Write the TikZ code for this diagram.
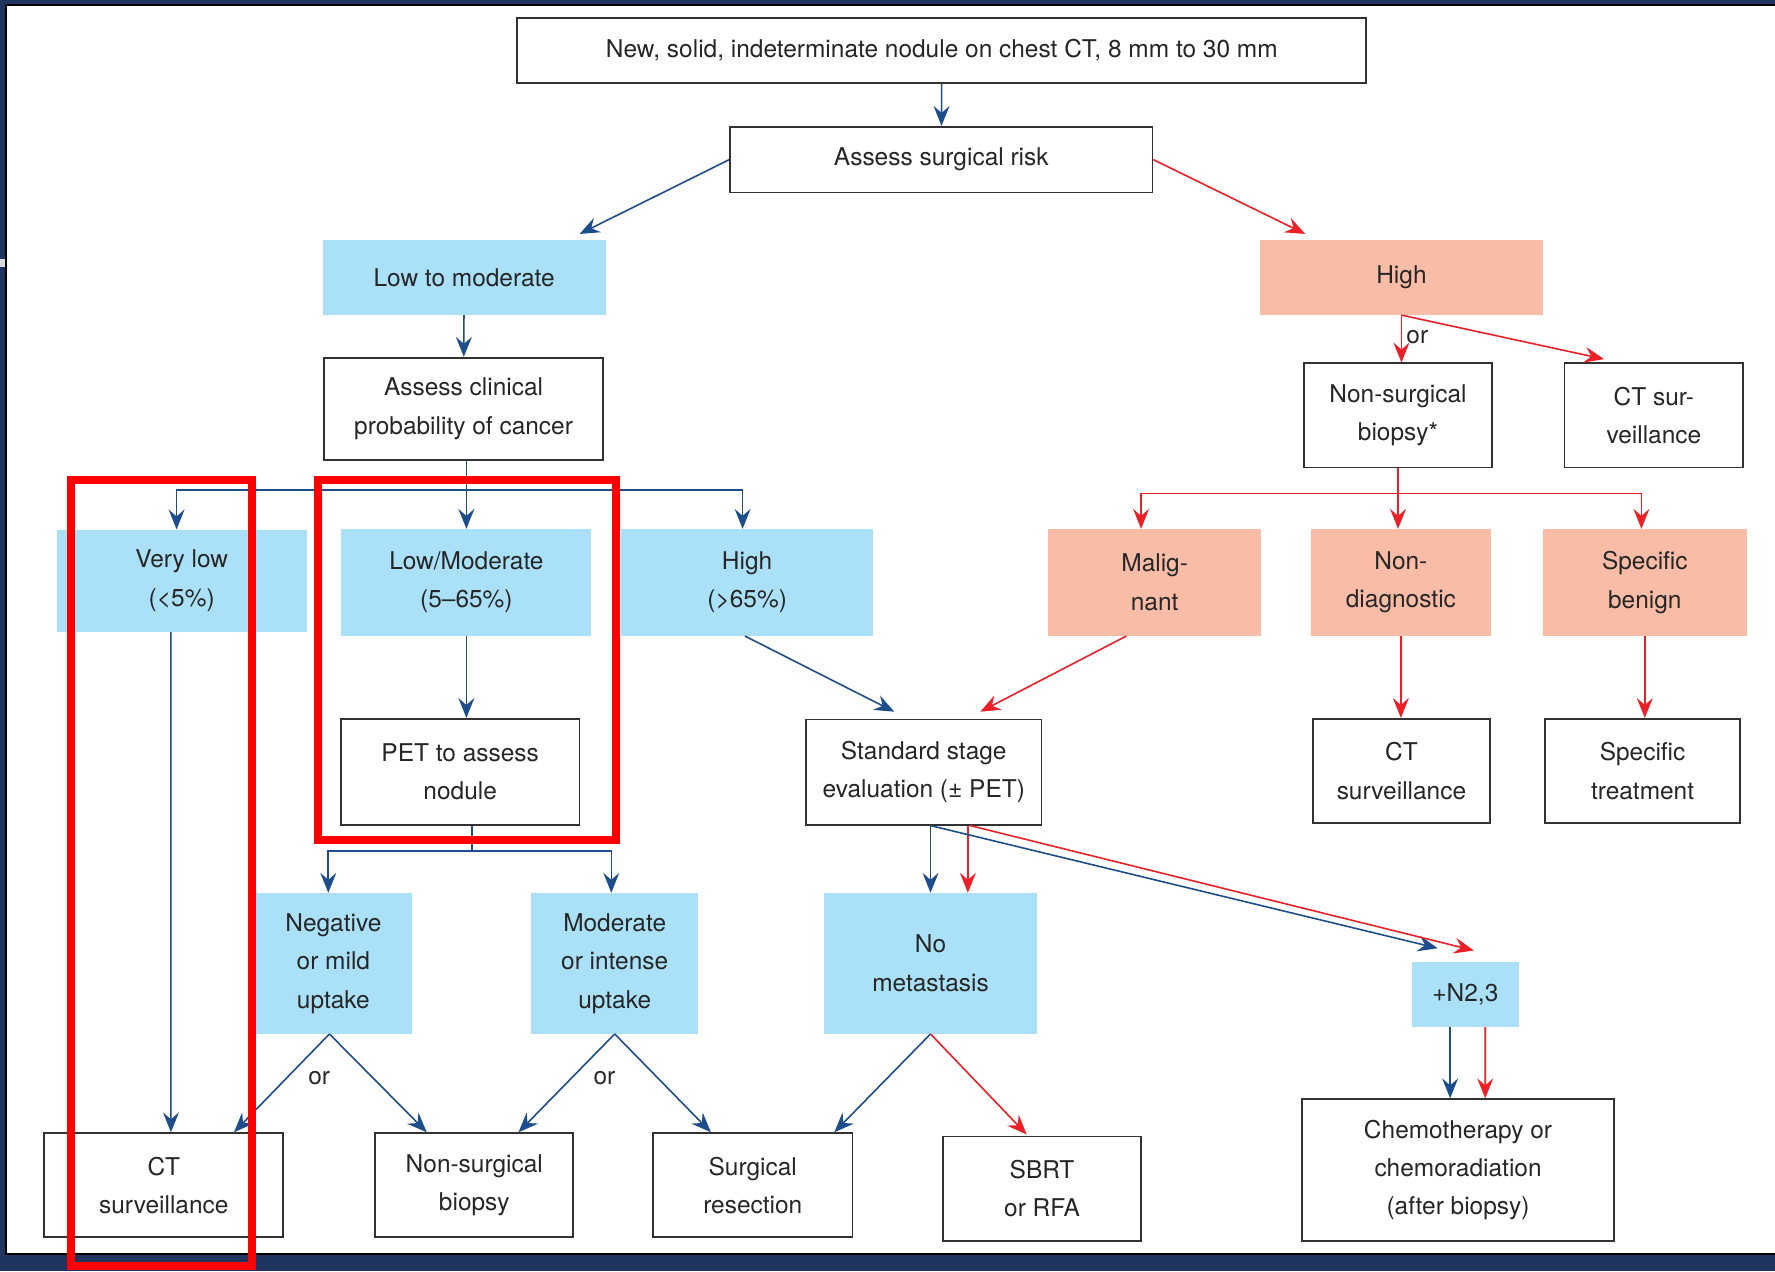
\documentclass[tikz,border=0pt]{standalone}
\usepackage{fontspec}
\setmainfont{TeX Gyre Heros}
\usetikzlibrary{arrows.meta,calc}
\definecolor{navyframe}{RGB}{31,53,96}
\definecolor{cellblue}{RGB}{170,225,249}
\definecolor{cellsalmon}{RGB}{249,188,166}
\definecolor{linkblue}{RGB}{30,77,140}
\definecolor{linkred}{RGB}{236,32,38}
\definecolor{edgegray}{RGB}{50,50,50}
\begin{document}
\begin{tikzpicture}[x=0.02cm,y=-0.02cm]
            \tikzset{
                txt/.style={font=\fontsize{12.3}{19.3}\selectfont, text=black!85, align=center, inner sep=0pt},
                sz/.style 2 args={minimum width=#1*0.02cm, minimum height=#2*0.02cm},
                plainbox/.style={txt, draw=edgegray, line width=0.9pt, fill=white},
                bluebox/.style={txt, fill=cellblue},
                salmonbox/.style={txt, fill=cellsalmon},
                blink/.style={draw=linkblue, line width=0.8pt},
                rlink/.style={draw=linkred, line width=0.8pt},
                barrow/.style={blink, -{Stealth[length=10pt,width=8pt,inset=3.5pt]}},
                rarrow/.style={rlink, -{Stealth[length=10pt,width=8pt,inset=3.5pt]}},
                hilite/.style={draw=red, line width=4pt},
                orlabel/.style={font=\fontsize{12.3}{14}\selectfont, text=black!85, inner sep=0pt},}
            \useasboundingbox (0,0) rectangle (1568,1123);
            % frame
            \fill[navyframe] (0,0) rectangle (1568,1123);
            \filldraw[fill=white, draw=black, line width=1pt] (5.3,4.4) rectangle (1590,1108);
            \fill[black!15] (0,229) rectangle (4.6,236);
            % top of the tree
            \node[plainbox, sz={750}{57}] (nodule) at (832,44.5) {New, solid, indeterminate nodule on chest CT, 8 mm to 30 mm};
            \node[plainbox, sz={373}{58}] (risk) at (831.5,141) {Assess surgical risk};
            \node[bluebox, sz={250}{66}] (lowrisk) at (410,245) {Low to moderate};
            \node[salmonbox, sz={250}{66}] (highrisk) at (1238,245) {High};
            \node[plainbox, sz={247}{90}] (clinical) at (409.5,361) {Assess clinical\\probability of cancer};
            \node[plainbox, sz={166}{92}] (nsbiopsy) at (1235,367) {Non-surgical\\biopsy*};
            \node[plainbox, sz={158}{92}] (ctsurvA) at (1461,367) {CT sur-\\veillance};
            % probability / biopsy result
            \node[bluebox, sz={221}{90}] (verylow) at (160.5,513) {Very low\\(<5\%)};
            \node[bluebox, sz={221}{94}] (lowmod) at (412,514.5) {Low/Moderate\\(5--65\%)};
            \node[bluebox, sz={222}{94}] (highprob) at (660,514.5) {High\\(>65\%)};
            \node[salmonbox, sz={188}{94}] (malignant) at (1020,514.5) {Malig-\\nant};
            \node[salmonbox, sz={159}{94}] (nondiag) at (1237.5,514.5) {Non-\\diagnostic};
            \node[salmonbox, sz={180}{94}] (benign) at (1453,514.5) {Specific\\benign};
            \node[plainbox, sz={211}{94}] (pet) at (406.5,682) {PET to assess\\nodule};
            \node[plainbox, sz={208}{93}] (staging) at (816,682) {Standard stage\\evaluation (± PET)};
            \node[plainbox, sz={156}{92}] (ctsurvB) at (1238,681) {CT\\surveillance};
            \node[plainbox, sz={172}{92}] (treatment) at (1451,681) {Specific\\treatment};
            % uptake / staging result
            \node[bluebox, sz={139}{124}] (neguptake) at (294.5,851) {Negative\\or mild\\uptake};
            \node[bluebox, sz={148}{124}] (moduptake) at (543,851) {Moderate\\or intense\\uptake};
            \node[bluebox, sz={188}{124}] (nometa) at (822,851) {No\\metastasis};
            \node[bluebox, sz={95}{57}] (nodes) at (1294.5,878.5) {+N2,3};
            % outcomes
            \node[plainbox, sz={211}{92}] (ctsurvC) at (144.7,1047) {CT\\surveillance};
            \node[plainbox, sz={175}{92}] (nsbiopsyB) at (419,1047) {Non-surgical\\biopsy};
            \node[plainbox, sz={176}{92}] (resection) at (665,1047) {Surgical\\resection};
            \node[plainbox, sz={175}{92}] (sbrt) at (920.5,1050) {SBRT\\or RFA};
            \node[plainbox, sz={276}{125}] (chemo) at (1288,1033.5) {Chemotherapy or\\chemoradiation\\(after biopsy)};
            \node[orlabel] (orhigh) at (1252,298) {or};
            \node[orlabel] (orneg) at (282,952) {or};
            \node[orlabel] (ormod) at (534,952) {or};
            % connectors
            \draw[barrow] (nodule) -- (risk);
            \draw[barrow] (risk.west) -- ($(lowrisk.north)+(102,-5)$);
            \draw[rarrow] (risk.east) -- ($(highrisk.north)+(-85,-5)$);
            \draw[barrow] (lowrisk) -- (clinical);
            \draw[rarrow] (highrisk.south) -- (highrisk.south |- nsbiopsy.north);
            \draw[rarrow] (highrisk.south) -- ($(ctsurvA.north)+(-44,-3)$);
            \coordinate (cbar) at (412,433);
            \draw[blink] (cbar |- clinical.south) -- (cbar);
            \draw[barrow] (cbar) -- (cbar |- lowmod.north);
            \draw[barrow] (cbar) -| ($(verylow.north)+(-4.5,0)$);
            \draw[barrow] (cbar) -| ($(highprob.north)+(-4,0)$);
            \coordinate (rbar) at (1235,436);
            \draw[rlink] (nsbiopsy.south) -- (rbar);
            \draw[rarrow] (rbar) -- (rbar |- nondiag.north);
            \draw[rarrow] (rbar) -| ($(malignant.north)+(-12,0)$);
            \draw[rarrow] (rbar) -| ($(benign.north)+(-3,0)$);
            \draw[barrow] ($(verylow.south)+(-9.5,0)$) -- ($(ctsurvC.north)+(6.3,0)$);
            \draw[barrow] (lowmod.south) -- (lowmod.south |- pet.north);
            \draw[barrow] ($(highprob.south)+(-2,0)$) -- ($(staging.north)+(-26,-6)$);
            \draw[rarrow] ($(malignant.south)+(-25,0)$) -- ($(staging.north)+(50,-6)$);
            \draw[rarrow] (nondiag.south) -- (nondiag.south |- ctsurvB.north);
            \draw[rarrow] (benign.south) -- (benign.south |- treatment.north);
            \coordinate (pbar) at (417,752);
            \draw[blink] (pbar |- pet.south) -- (pbar);
            \draw[barrow] (pbar) -| ($(neguptake.north)+(-4.5,0)$);
            \draw[barrow] (pbar) -| ($(moduptake.north)+(-3,0)$);
            \draw[barrow] ($(neguptake.south)+(-3.5,0)$) -- ($(ctsurvC.north)+(62,0)$);
            \draw[barrow] ($(neguptake.south)+(-3.5,0)$) -- ($(nsbiopsyB.north)+(-42,0)$);
            \draw[barrow] (moduptake.south) -- ($(nsbiopsyB.north)+(39,0)$);
            \draw[barrow] (moduptake.south) -- ($(resection.north)+(-37,0)$);
            \draw[barrow] (nometa.south) -- ($(resection.north)+(72,0)$);
            \draw[rarrow] (nometa.south) -- ($(sbrt.north)+(-13.5,-1)$);
            \draw[barrow] ($(staging.south)+(6,0)$) -- (nometa.north);
            \draw[rarrow] ($(staging.south)+(39,0)$) -- ($(nometa.north)+(33,0)$);
            \draw[barrow] ($(staging.south)+(6,0)$) -- ($(nodes.north)+(-24.5,-12)$);
            \draw[rarrow] ($(staging.south)+(41,0)$) -- ($(nodes.north)+(7.5,-10)$);
            \draw[barrow] ($(nodes.south)+(-13.5,0)$) -- ($(chemo.north)+(-7,0)$);
            \draw[rarrow] ($(nodes.south)+(17.5,0)$) -- ($(chemo.north)+(24,0)$);
            % red highlight frames
            \draw[hilite] (62.5,424) rectangle (223,1118);
            \draw[hilite] (281,424) rectangle (544.5,742);
        \end{tikzpicture}
\end{document}
